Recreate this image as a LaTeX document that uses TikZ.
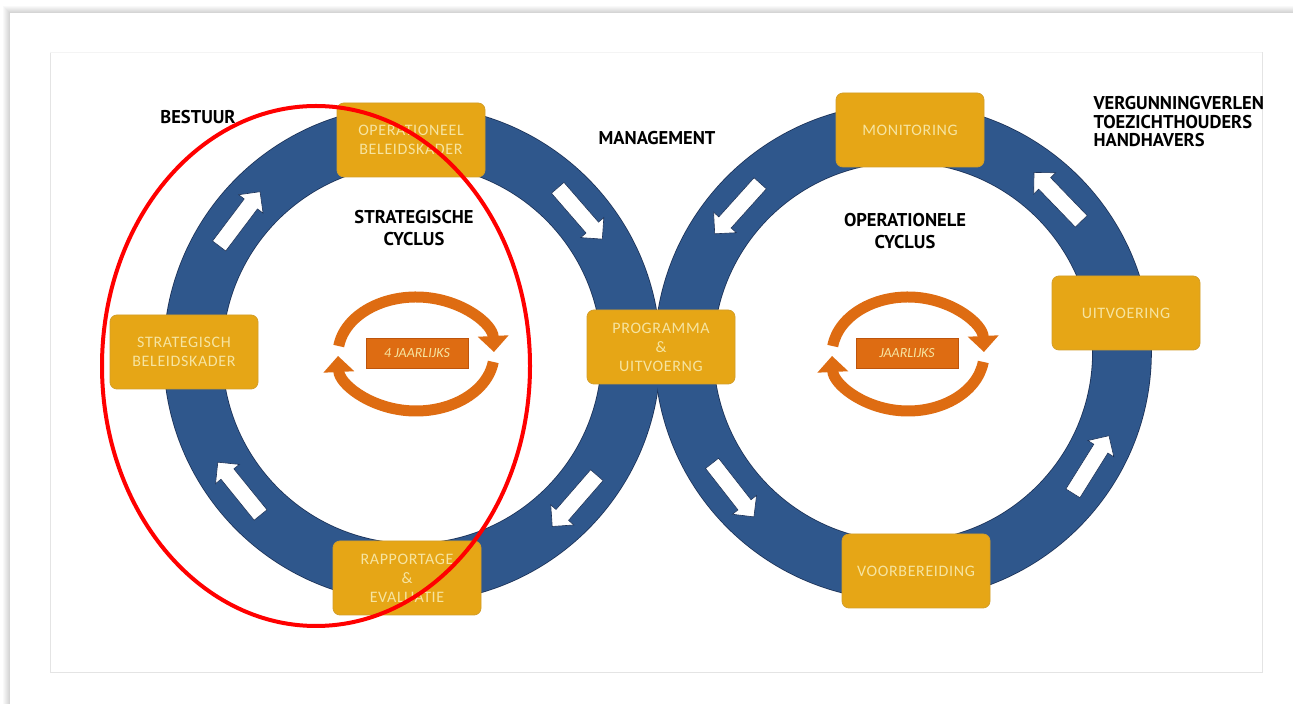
\documentclass[tikz,border=0pt]{standalone}
\usepackage{fontspec}
\setmainfont{Carlito}
\newfontfamily\boxfont{Carlito}[LetterSpace=4]
\newfontfamily\headfont{PT Sans}
\usetikzlibrary{shapes.arrows, arrows.meta, calc}

\definecolor{ringblue}{RGB}{47,87,140}
\definecolor{ringline}{RGB}{28,50,88}
\definecolor{boxgold}{RGB}{230,166,22}
\definecolor{boxline}{RGB}{212,158,40}
\definecolor{boxtext}{RGB}{246,228,160}
\definecolor{cycorange}{RGB}{222,108,18}
\definecolor{cycdark}{RGB}{190,84,12}
\definecolor{cardline}{RGB}{228,228,228}

\begin{document}
\begin{tikzpicture}[x=1pt, y=1pt,
  % Node Styles
  stepbox/.style={rectangle, rounded corners=7pt, draw=boxline, line width=0.8pt, fill=boxgold, text=boxtext, minimum width=148pt, minimum height=74pt, align=center, font=\boxfont\fontsize{16}{19}\selectfont},
  headlabel/.style={align=center, text=black, font=\headfont\bfseries\fontsize{18.5}{22}\selectfont},
  periodbox/.style={rectangle, draw=cycdark, fill=cycorange, text=boxtext, minimum width=102pt, minimum height=30pt, font=\itshape\fontsize{14}{16}\selectfont},
  % Arrow Styles
  ringarrow/.style={single arrow, draw=ringline, fill=white, line width=0.6pt, minimum height=68pt, minimum width=30pt, inner sep=8pt, single arrow head extend=7pt},
  cyclearrow/.style={cycorange, line width=11pt, -{Triangle[width=30pt, length=16pt]}}
]

% Card and frame
\fill[white] (0,0) rectangle (1293,704);
\foreach \s in {1,...,7}
  \fill[black, opacity=0.025] (10-\s,0) rectangle (1293,691+\s);
\fill[white] (10,0) rectangle (1293,691);
\draw[cardline] (50,652) -- (50,32) -- (1262,32) -- (1262,652);
\draw[cardline!40] (50,652) -- (1262,652);

% Rings
\coordinate (lc) at (412,350);
\coordinate (rc) at (903,352);
\draw[ringline, line width=1.6pt] (lc) circle[radius=248] (lc) circle[radius=190];
\draw[ringline, line width=1.6pt] (rc) circle[radius=248] (rc) circle[radius=190];
\fill[ringblue, even odd rule] (lc) circle[radius=248] (lc) circle[radius=190];
\fill[ringblue, even odd rule] (rc) circle[radius=248] (rc) circle[radius=190];

% Ring arrows
\foreach \a [count=\i] in {143,41,-41,-141}
  \node[ringarrow, rotate=\a-90] (la\i) at ($(lc)+(\a:219)$) {};
\foreach \a [count=\i] in {138,44,-32,-142}
  \node[ringarrow, rotate=\a+90] (ra\i) at ($(rc)+(\a:219)$) {};

% Steps
\node[stepbox] (opb) at (411,564) {OPERATIONEEL\\BELEIDSKADER};
\node[stepbox] (sbk) at (184,352) {STRATEGISCH\\BELEIDSKADER};
\node[stepbox] (rap) at (407,126) {RAPPORTAGE\\\&\\EVALUATIE};
\node[stepbox] (prog) at (661,357) {PROGRAMMA\\\&\\UITVOERNG};
\node[stepbox] (mon) at (910,574) {MONITORING};
\node[stepbox] (uitv) at (1126,391) {UITVOERING};
\node[stepbox] (voorb) at (916,133) {VOORBEREIDING};

% Cycles
\coordinate (lcyc) at (416,350);
\coordinate (rcyc) at (908,350);
\draw[cyclearrow] ($(lcyc)+(172:78 and 57)$) arc[start angle=172, end angle=2, x radius=78, y radius=57];
\draw[cyclearrow] ($(lcyc)+(-8:78 and 57)$) arc[start angle=-8, end angle=-178, x radius=78, y radius=57];
\draw[cyclearrow] ($(rcyc)+(172:76 and 57)$) arc[start angle=172, end angle=2, x radius=76, y radius=57];
\draw[cyclearrow] ($(rcyc)+(-8:76 and 57)$) arc[start angle=-8, end angle=-178, x radius=76, y radius=57];
\node[periodbox] (lper) at (417,351) {4 JAARLIJKS};
\node[periodbox] (rper) at (907,351) {JAARLIJKS};

% Labels
\node[headlabel] (bestuur) at (198,587) {BESTUUR};
\node[headlabel] (scyc) at (414,476) {STRATEGISCHE\\CYCLUS};
\node[headlabel] (mgmt) at (657,566) {MANAGEMENT};
\node[headlabel] (ocyc) at (905,473) {OPERATIONELE\\CYCLUS};
\node[headlabel, align=left, anchor=west, font=\headfont\bfseries\fontsize{18.5}{18.5}\selectfont] (roles) at (1090,582) {VERGUNNINGVERLEN\\TOEZICHTHOUDERS\\HANDHAVERS};

% Mark
\draw[red, line width=4pt] (316,338) ellipse[x radius=214, y radius=260];

\end{tikzpicture}
\end{document}
